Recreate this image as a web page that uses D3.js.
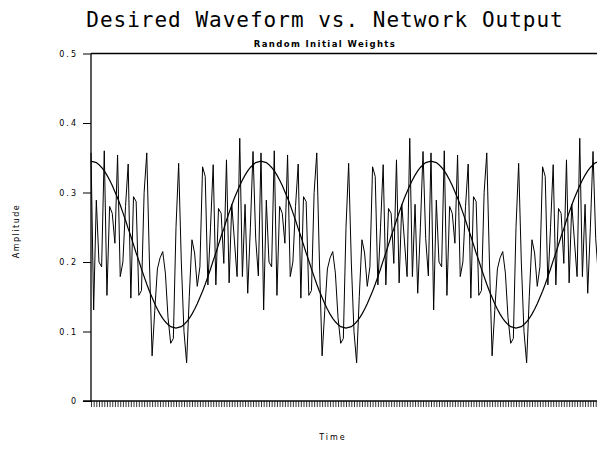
<!DOCTYPE html>
<html lang="en">

<head>
  <meta charset="UTF-8">
  <title>Desired Waveform vs. Network Output</title>
  <style>
    body { margin: 0; background: #fff; }
    text { fill: #000; }
  </style>
</head>

<body>

  <script src="https://cdn.jsdelivr.net/npm/d3@7/dist/d3.min.js"></script>
  <script>
    var width = 597;
    var height = 453;

    // y axis ticks
    var yTicks = [0, 0.1, 0.2, 0.3, 0.4, 0.5];
    var yTickLabels = ["0", "0.1", "0.2", "0.3", "0.4", "0.5"];

    // desired waveform, one value per time step (3 cycles of 64 steps)
    var desired = [
      0.345,0.344,0.343,0.340,0.336,0.331,0.325,0.318,0.310,0.301,0.292,0.282,0.271,0.260,0.248,0.237,0.225,0.213,0.202,0.190,0.179,0.168,0.158,0.149,0.140,0.132,0.125,0.119,0.114,0.110,0.107,0.106,0.105,0.106,0.107,0.110,0.114,0.119,0.125,0.132,0.140,0.149,0.158,0.168,0.179,0.190,0.202,0.213,0.225,0.237,0.248,0.260,0.271,0.282,0.292,0.301,0.310,0.318,0.325,0.331,0.336,0.340,0.343,0.344,
      0.345,0.344,0.343,0.340,0.336,0.331,0.325,0.318,0.310,0.301,0.292,0.282,0.271,0.260,0.248,0.237,0.225,0.213,0.202,0.190,0.179,0.168,0.158,0.149,0.140,0.132,0.125,0.119,0.114,0.110,0.107,0.106,0.105,0.106,0.107,0.110,0.114,0.119,0.125,0.132,0.140,0.149,0.158,0.168,0.179,0.190,0.202,0.213,0.225,0.237,0.248,0.260,0.271,0.282,0.292,0.301,0.310,0.318,0.325,0.331,0.336,0.340,0.343,0.344,
      0.345,0.344,0.343,0.340,0.336,0.331,0.325,0.318,0.310,0.301,0.292,0.282,0.271,0.260,0.248,0.237,0.225,0.213,0.202,0.190,0.179,0.168,0.158,0.149,0.140,0.132,0.125,0.119,0.114,0.110,0.107,0.106,0.105,0.106,0.107,0.110,0.114,0.119,0.125,0.132,0.140,0.149,0.158,0.168,0.179,0.190,0.202,0.213,0.225,0.237,0.248,0.260,0.271,0.282,0.292,0.301,0.310,0.318,0.325,0.331,0.336,0.340,0.343,0.344,
      0.345
    ];

    // network output with random initial weights
    var output = [
      0.357,0.131,0.289,0.200,0.193,0.360,0.152,0.280,0.270,0.227,0.354,0.179,0.200,0.280,0.341,0.148,0.294,0.287,0.152,0.159,0.300,0.357,0.200,0.065,0.130,0.190,0.206,0.215,0.184,0.120,0.083,0.090,0.250,0.342,0.200,0.100,0.055,0.150,0.232,0.213,0.165,0.193,0.337,0.323,0.167,0.250,0.340,0.167,0.277,0.270,0.198,0.347,0.170,0.283,0.230,0.179,0.378,0.179,0.283,0.155,0.250,0.359,0.234,0.180,
      0.357,0.131,0.289,0.200,0.193,0.360,0.152,0.280,0.270,0.227,0.354,0.179,0.200,0.280,0.341,0.148,0.294,0.287,0.152,0.159,0.300,0.357,0.200,0.065,0.130,0.190,0.206,0.215,0.184,0.120,0.083,0.090,0.250,0.342,0.200,0.100,0.055,0.150,0.232,0.213,0.165,0.193,0.337,0.323,0.167,0.250,0.340,0.167,0.277,0.270,0.198,0.347,0.170,0.283,0.230,0.179,0.378,0.179,0.283,0.155,0.250,0.359,0.234,0.180,
      0.357,0.131,0.289,0.200,0.193,0.360,0.152,0.280,0.270,0.227,0.354,0.179,0.200,0.280,0.341,0.148,0.294,0.287,0.152,0.159,0.300,0.357,0.200,0.065,0.130,0.190,0.206,0.215,0.184,0.120,0.083,0.090,0.250,0.342,0.200,0.100,0.055,0.150,0.232,0.213,0.165,0.193,0.337,0.323,0.167,0.250,0.340,0.167,0.277,0.270,0.198,0.347,0.170,0.283,0.230,0.179,0.378,0.179,0.283,0.155,0.250,0.359,0.234,0.180,
      0.357
    ];

    var timeSteps = d3.range(desired.length);

    var svg = d3.select("body")
      .append("svg")
      .attr("width", width)
      .attr("height", height);

    var x = d3.scaleLinear()
      .domain([0, timeSteps.length - 1])
      .range([91, 601]);

    var y = d3.scaleLinear()
      .domain([0, 0.5])
      .range([401, 53.5]);

    // title
    svg.append("text")
      .attr("x", 325)
      .attr("y", 27)
      .attr("text-anchor", "middle")
      .style("font-family", "DejaVu Sans Mono")
      .style("font-size", "21px")
      .style("letter-spacing", "1px")
      .text("Desired Waveform vs. Network Output");

    svg.append("text")
      .attr("x", 325)
      .attr("y", 47)
      .attr("text-anchor", "middle")
      .style("font-family", "DejaVu Sans")
      .style("font-weight", "bold")
      .style("font-size", "8.5px")
      .style("letter-spacing", "1.4px")
      .text("Random Initial Weights");

    // y axis
    var yAxis = d3.axisLeft(y)
      .tickValues(yTicks)
      .tickSize(8)
      .tickPadding(5)
      .tickFormat(function (d, i) { return yTickLabels[i]; });

    var gy = svg.append("g")
      .attr("transform", "translate(" + x(0) + ",0)")
      .call(yAxis);
    gy.select(".domain").remove();
    gy.selectAll(".tick line").attr("stroke", "#000");
    gy.selectAll(".tick text")
      .style("font-family", "DejaVu Sans")
      .style("font-size", "8px")
      .style("letter-spacing", "2px");

    // x axis: one small tick per time step, no labels
    var xAxis = d3.axisBottom(x)
      .tickValues(timeSteps)
      .tickSize(6)
      .tickSizeOuter(0)
      .tickFormat("");

    var gx = svg.append("g")
      .attr("transform", "translate(0," + y(0) + ")")
      .call(xAxis);
    gx.select(".domain").remove();
    gx.selectAll(".tick line").attr("stroke", "#000").attr("stroke-width", 0.8);

    // frame lines: left, bottom, top
    svg.append("line")
      .attr("x1", x(0)).attr("x2", x(0))
      .attr("y1", y(0.5)).attr("y2", y(0))
      .attr("stroke", "#000").attr("stroke-width", 1.3);
    svg.append("line")
      .attr("x1", x(0) - 8).attr("x2", x(timeSteps.length - 1))
      .attr("y1", y(0)).attr("y2", y(0))
      .attr("stroke", "#000").attr("stroke-width", 1.3);
    svg.append("line")
      .attr("x1", x(0)).attr("x2", x(timeSteps.length - 1))
      .attr("y1", y(0.5)).attr("y2", y(0.5))
      .attr("stroke", "#000").attr("stroke-width", 1.3);

    var line = d3.line()
      .x(function (d, i) { return x(i); })
      .y(function (d) { return y(d); });

    svg.append("path")
      .datum(output)
      .attr("fill", "none")
      .attr("stroke", "#000")
      .attr("stroke-width", 1)
      .attr("d", line);

    svg.append("path")
      .datum(desired)
      .attr("fill", "none")
      .attr("stroke", "#000")
      .attr("stroke-width", 1.2)
      .attr("d", line);

    // axis titles
    svg.append("text")
      .attr("transform", "translate(19,231) rotate(-90)")
      .attr("text-anchor", "middle")
      .style("font-family", "DejaVu Sans")
      .style("font-size", "8px")
      .style("letter-spacing", "1.5px")
      .text("Amplitude");

    svg.append("text")
      .attr("x", 333)
      .attr("y", 440)
      .attr("text-anchor", "middle")
      .style("font-family", "DejaVu Sans")
      .style("font-size", "8px")
      .style("letter-spacing", "2px")
      .text("Time");
  </script>
</body>

</html>
